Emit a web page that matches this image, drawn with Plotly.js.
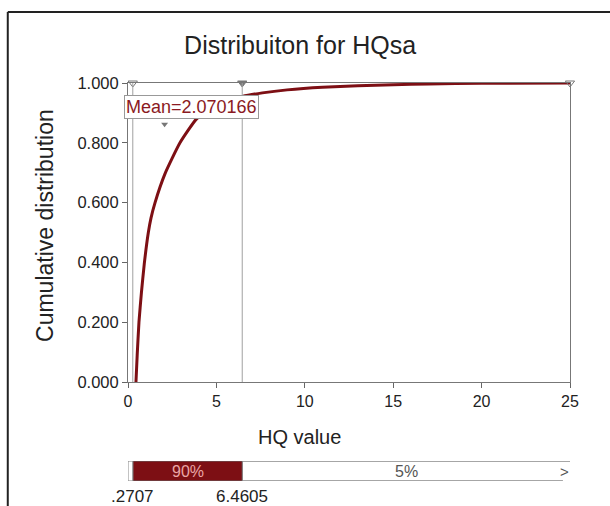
<!DOCTYPE html>
<html>
<head>
<meta charset="utf-8">
<script src="https://cdn.plot.ly/plotly-3.0.1.min.js"></script>
<style>html,body{margin:0;padding:0;background:#fff;}#chart{width:610px;height:506px;}</style>
</head>
<body>
<div id="chart"></div>
<script>
// Data
var hqValues = [0.45, 0.52, 0.62, 0.76, 0.92, 1.15, 1.30, 1.53, 2.09, 2.94, 3.88, 5.00, 6.46, 7.60, 9.00, 11.0, 13.0, 15.0, 17.0, 20.0, 25.0];
var cumProb  = [0.000, 0.090, 0.200, 0.300, 0.395, 0.500, 0.548, 0.600, 0.696, 0.800, 0.880, 0.928, 0.955, 0.967, 0.977, 0.986, 0.991, 0.994, 0.997, 0.999, 1.000];
var lowerBound = 0.2707;
var upperBound = 6.4605;
var meanValue = 2.070166;
var xMax = 25;
var pctLabels = ["90%", "5%"];
var boundLabels = [".2707", "6.4605"];
var xTicks = [0, 5, 10, 15, 20, 25];
var yTicks = [0, 0.2, 0.4, 0.6, 0.8, 1.0];

var red = '#7d0f14';
var FONT = 'Liberation Sans, Arial, sans-serif';

var traces = [
  {x: hqValues, y: cumProb, type: 'scatter', mode: 'lines',
   line: {color: red, width: 3, shape: 'spline', smoothing: 0.5}, hoverinfo: 'skip', xaxis: 'x', yaxis: 'y'},
  {x: [lowerBound, upperBound, xMax], y: [1, 1, 1], type: 'scatter', mode: 'markers',
   marker: {symbol: ['triangle-down-open', 'triangle-down', 'triangle-down-open'], size: 8, color: '#777', line: {color: '#777', width: 1}},
   cliponaxis: false, hoverinfo: 'skip', xaxis: 'x', yaxis: 'y'},
  {x: [meanValue], y: [0.862], type: 'scatter', mode: 'markers',
   marker: {symbol: 'triangle-down', size: 6, color: '#777'},
   cliponaxis: false, hoverinfo: 'skip', xaxis: 'x', yaxis: 'y'},
  {x: [upperBound - lowerBound], base: [lowerBound], y: [0.5], type: 'bar', orientation: 'h',
   width: [1], marker: {color: red, line: {color: '#666', width: 1}}, hoverinfo: 'skip', xaxis: 'x2', yaxis: 'y2'}
];

var shapes = [
  {type: 'line', xref: 'x', yref: 'y', x0: lowerBound, x1: lowerBound, y0: 0, y1: 1, line: {color: '#a0a0a0', width: 1}},
  {type: 'line', xref: 'x', yref: 'y', x0: upperBound, x1: upperBound, y0: 0, y1: 1, line: {color: '#a0a0a0', width: 1}},
  {type: 'rect', xref: 'x2', yref: 'y2', x0: 0, x1: lowerBound, y0: 0, y1: 1, line: {color: '#888', width: 1}, fillcolor: 'white'},
  {type: 'line', xref: 'x2', yref: 'y2', x0: upperBound, x1: xMax + 0.1, y0: 1, y1: 1, line: {color: '#888', width: 1.5}},
  {type: 'line', xref: 'x2', yref: 'y2', x0: upperBound, x1: xMax - 0.4, y0: 0, y1: 0, line: {color: '#888', width: 1.5}},
  {type: 'line', xref: 'paper', yref: 'paper', x0: -0.272, x1: -0.272, y0: -0.07, y1: 1.178, line: {color: '#222', width: 2}},
  {type: 'line', xref: 'paper', yref: 'paper', x0: -0.272, x1: 1.2, y0: 1.178, y1: 1.178, line: {color: '#222', width: 2}}
];

var annotations = [
  {xref: 'x', yref: 'y', x: 0, y: 1, xanchor: 'left', yanchor: 'top', xshift: -4, yshift: -12,
   text: 'Mean=2.070166', showarrow: false, font: {family: FONT, size: 18, color: '#8b1a22'},
   bgcolor: 'white', bordercolor: '#999', borderwidth: 1, borderpad: 1},
  {xref: 'paper', yref: 'paper', x: 0.389, y: 0.113, text: 'HQ value', showarrow: false,
   font: {family: FONT, size: 20, color: '#222'}, xanchor: 'center', yanchor: 'middle'},
  {xref: 'paper', yref: 'paper', x: -0.188, y: 0.644, text: 'Cumulative distribution', showarrow: false, textangle: -90,
   font: {family: FONT, size: 23, color: '#222'}, xanchor: 'center', yanchor: 'middle'},
  {xref: 'x2', yref: 'y2', x: (lowerBound + upperBound) / 2, y: 0.5, text: pctLabels[0], showarrow: false,
   font: {family: FONT, size: 16, color: '#eaa6a6'}},
  {xref: 'x2', yref: 'y2', x: (upperBound + xMax) / 2, y: 0.5, text: pctLabels[1], showarrow: false,
   font: {family: FONT, size: 16, color: '#555'}},
  {xref: 'paper', yref: 'y2', x: 1.002, y: 0.5, text: '>', showarrow: false,
   font: {family: FONT, size: 15, color: '#555'}},
  {xref: 'x2', yref: 'paper', x: lowerBound, y: 0.0, yanchor: 'top', yshift: -3, text: boundLabels[0], showarrow: false,
   font: {family: FONT, size: 17, color: '#222'}},
  {xref: 'x2', yref: 'paper', x: upperBound, y: 0.0, yanchor: 'top', yshift: -3, text: boundLabels[1], showarrow: false,
   font: {family: FONT, size: 17, color: '#222'}}
];

var layout = {
  width: 610, height: 506,
  margin: {l: 128, r: 40, t: 83, b: 24},
  paper_bgcolor: 'white', plot_bgcolor: 'white',
  showlegend: false,
  font: {family: FONT, color: '#222'},
  title: {text: 'Distribuiton for HQsa', font: {family: FONT, size: 25, color: '#222'},
          xref: 'container', x: 0.492, xanchor: 'center', yref: 'container', y: 0.911, yanchor: 'middle'},
  xaxis: {domain: [0, 1], range: [0, xMax], tickvals: xTicks, ticktext: xTicks.map(String),
          showgrid: false, zeroline: false, showline: true, linecolor: '#777', linewidth: 1, mirror: true,
          ticks: 'outside', ticklen: 5, tickcolor: '#666', tickfont: {size: 16, color: '#222'},
          anchor: 'y', fixedrange: true},
  yaxis: {domain: [0.2506, 1], range: [0, 1], tickvals: yTicks, tickformat: '.3f',
          showgrid: false, zeroline: false, showline: true, linecolor: '#777', linewidth: 1, mirror: true,
          ticks: 'outside', ticklen: 5, tickcolor: '#666', tickfont: {size: 16.5, color: '#222'},
          anchor: 'x', fixedrange: true},
  xaxis2: {domain: [0, 1], range: [0, xMax], anchor: 'y2', visible: false, fixedrange: true},
  yaxis2: {domain: [0.0025, 0.0526], range: [0, 1], anchor: 'x2', visible: false, fixedrange: true},
  shapes: shapes,
  annotations: annotations
};

Plotly.newPlot('chart', traces, layout, {staticPlot: true, displayModeBar: false});
</script>
</body>
</html>
